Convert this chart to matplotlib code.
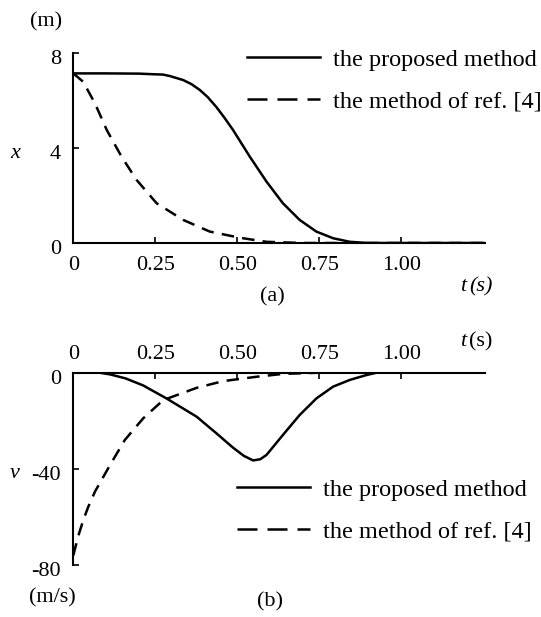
import matplotlib
matplotlib.use("Agg")
import matplotlib.pyplot as plt
import matplotlib.transforms as mtrans
from matplotlib.lines import Line2D

plt.rcParams['font.family'] = ['Liberation Serif', 'DejaVu Serif']

# ---------------- data ----------------
# (a) displacement x (m)
t_x_prop = [0.00, 0.10, 0.20, 0.234, 0.273, 0.294, 0.335, 0.360, 0.386, 0.410,
            0.437, 0.460, 0.487, 0.538, 0.589, 0.639, 0.690, 0.741, 0.792, 0.843,
            0.90, 1.00, 1.25]
x_prop = [7.13, 7.13, 7.12, 7.10, 7.08, 7.02, 6.85, 6.68, 6.43, 6.13,
          5.70, 5.28, 4.75, 3.63, 2.58, 1.67, 0.97, 0.48, 0.20, 0.05,
          0.0, 0.0, 0.0]

t_x_ref = [0.00, 0.030, 0.066, 0.102, 0.147, 0.193, 0.254, 0.335, 0.416, 0.508,
           0.589, 0.70, 0.85, 1.00, 1.25]
x_ref = [7.13, 6.78, 5.87, 4.75, 3.63, 2.65, 1.67, 0.97, 0.48, 0.22,
         0.05, 0.0, 0.0, 0.0, 0.0]

# (b) velocity v (m/s)
t_v_prop = [0.00, 0.08, 0.112, 0.160, 0.213, 0.284, 0.376, 0.437, 0.487, 0.520,
            0.548, 0.570, 0.589, 0.639, 0.690, 0.741, 0.792, 0.843, 0.893, 0.924,
            1.00, 1.25]
v_prop = [0.0, 0.0, -0.7, -2.4, -5.3, -10.7, -18.3, -25.3, -31.2, -34.6,
          -36.5, -36.0, -34.2, -25.9, -17.6, -10.7, -5.8, -3.0, -1.0, 0.0,
          0.0, 0.0]

t_v_ref = [0.00, 0.015, 0.030, 0.045, 0.066, 0.112, 0.157, 0.213, 0.274, 0.376,
           0.457, 0.558, 0.639, 0.75, 0.90, 1.00, 1.25]
v_ref = [-76.0, -68.0, -61.5, -56.0, -49.5, -38.4, -28.0, -19.0, -11.4, -6.3,
         -3.5, -1.7, -0.5, 0.0, 0.0, 0.0, 0.0]

t_ticks = [0, 0.25, 0.50, 0.75, 1.00]
t_ticklabels = ['0', '0.25', '0.50', '0.75', '1.00']
x_ticks = [0, 4, 8]
v_ticks = [0, -40, -80]
v_ticklabels = ['0', '-40', '-80']
legend_labels = ['the proposed method', 'the method of ref. [4]']

# ---------------- figure ----------------
W, H = 541, 617
fig = plt.figure(figsize=(W / 100, H / 100), dpi=100)
fig.patch.set_facecolor('white')

def fx(px):
    return px / W

def fy(py):
    return 1 - py / H

FS = 16
LFS = 17.5
LW = 1.8
DASH_CURVE = (5.0, 3.3)
DASH_LEG = (8.0, 4.0)

left_px, right_px = 73.3, 485
off = mtrans.ScaledTranslation(0, -4 / 100, fig.dpi_scale_trans)

# ---- panel (a)
axa = fig.add_axes([fx(left_px), fy(243), fx(right_px - left_px), (243 - 52.7) / H])
axa.plot(t_x_prop, x_prop, color='black', lw=LW)
axa.plot(t_x_ref, x_ref, color='black', lw=LW, linestyle=(0, DASH_CURVE))
axa.set_xlim(0, 1.255)
axa.set_ylim(0, 8)
for s in ['top', 'right']:
    axa.spines[s].set_visible(False)
for s in ['left', 'bottom']:
    axa.spines[s].set_linewidth(1.5)
axa.set_xticks(t_ticks)
axa.set_xticklabels(t_ticklabels)
axa.set_yticks(x_ticks)
axa.set_yticklabels([str(v) for v in x_ticks])
axa.tick_params(axis='both', direction='in', length=4, width=1.2, labelsize=FS)
axa.tick_params(axis='x', pad=9)
axa.tick_params(axis='y', pad=9)
for lab in axa.get_yticklabels():
    lab.set_transform(lab.get_transform() + off)

h1 = Line2D([], [], color='black', lw=LW)
h2 = Line2D([], [], color='black', lw=LW, linestyle=(0, DASH_LEG))
axa.legend([h1, h2], legend_labels, loc='upper left',
           bbox_to_anchor=(fx(247), fy(48.5)), bbox_transform=fig.transFigure,
           frameon=False, fontsize=LFS, handlelength=3.0, handletextpad=0.53,
           labelspacing=0.81, borderpad=0, borderaxespad=0)

fig.text(fx(46), fy(22), '(m)', fontsize=FS, ha='center', va='center')
fig.text(fx(15), fy(153), 'x', fontsize=FS, ha='center', va='center', style='italic')
fig.text(fx(466), fy(287), 't', fontsize=FS, ha='right', va='center', style='italic')
fig.text(fx(469), fy(287), '(s)', fontsize=FS, ha='left', va='center', style='italic')
fig.text(fx(272), fy(297), '(a)', fontsize=FS, ha='center', va='center')

# ---- panel (b)
axb = fig.add_axes([fx(left_px), fy(565), fx(right_px - left_px), (565 - 372.7) / H])
axb.plot(t_v_prop, v_prop, color='black', lw=LW)
axb.plot(t_v_ref, v_ref, color='black', lw=LW, linestyle=(0, DASH_CURVE))
axb.set_xlim(0, 1.255)
axb.set_ylim(-80, 0)
for s in ['bottom', 'right']:
    axb.spines[s].set_visible(False)
for s in ['left', 'top']:
    axb.spines[s].set_linewidth(1.5)
axb.xaxis.tick_top()
axb.set_xticks(t_ticks)
axb.set_xticklabels(t_ticklabels)
axb.set_yticks(v_ticks)
axb.set_yticklabels(v_ticklabels)
axb.tick_params(axis='both', direction='in', length=4, width=1.2, labelsize=FS)
axb.tick_params(axis='x', pad=6)
axb.tick_params(axis='y', pad=9)
for lab in axb.get_yticklabels():
    lab.set_transform(lab.get_transform() + off)

axb.legend([h1, h2], legend_labels, loc='upper left',
           bbox_to_anchor=(fx(237), fy(478.5)), bbox_transform=fig.transFigure,
           frameon=False, fontsize=LFS, handlelength=3.0, handletextpad=0.53,
           labelspacing=0.81, borderpad=0, borderaxespad=0)

fig.text(fx(15), fy(473), 'v', fontsize=FS, ha='center', va='center', style='italic')
fig.text(fx(52), fy(598), '(m/s)', fontsize=FS, ha='center', va='center')
fig.text(fx(466), fy(342), 't', fontsize=FS, ha='right', va='center', style='italic')
fig.text(fx(469), fy(342), '(s)', fontsize=FS, ha='left', va='center')
fig.text(fx(270), fy(602), '(b)', fontsize=FS, ha='center', va='center')

fig.savefig('out.png', dpi=100, facecolor='white')
